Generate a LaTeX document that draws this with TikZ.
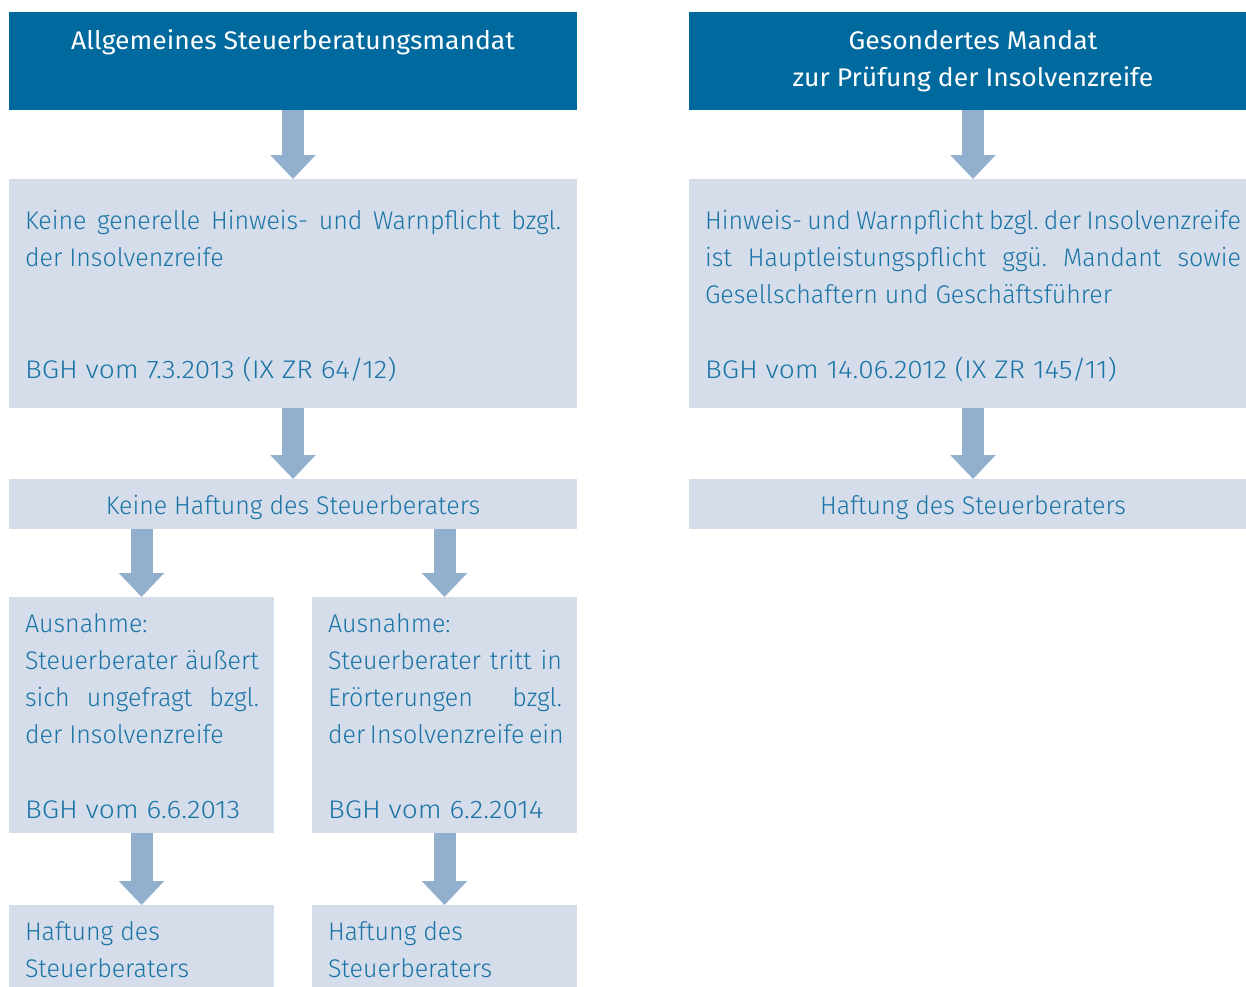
\documentclass[tikz,border=0pt]{standalone}
\usepackage{fontspec}
\setmainfont{Fira Sans}[UprightFont=* Light, BoldFont=*, FakeStretch=0.98]
\newfontfamily\hdrfont{Fira Sans}[FakeStretch=1.04]
\newfontfamily\bghfont{Fira Sans Light}[FakeStretch=1.10]
\usetikzlibrary{arrows.meta}
\definecolor{hdrblue}{RGB}{0,105,158}
\definecolor{boxfill}{RGB}{213,221,234}
\definecolor{arrcol}{RGB}{147,175,206}
\definecolor{txtblue}{RGB}{26,116,166}
\frenchspacing
\newcommand\justline[1]{\makebox[\linewidth][s]{#1}}
\newcommand\bgh[1]{{\bghfont #1}}
\begin{document}
\begin{tikzpicture}[x=1pt,y=-1pt,
  hdr/.style={fill=hdrblue, inner sep=0pt, outer sep=0pt, minimum width=568pt, minimum height=98pt, anchor=north west},
  lbox/.style={fill=boxfill, inner sep=0pt, outer sep=0pt, anchor=north west},
  arr/.style={draw=arrcol, line width=22pt, -{Triangle[width=44pt,length=24pt]}},
  txt/.style={anchor=base west, inner sep=0pt, outer sep=0pt, text=txtblue, font=\fontsize{25.5}{37.3}\selectfont},
  htxt/.style={anchor=base, inner sep=0pt, outer sep=0pt, text=white, font=\fontsize{25.5}{37.3}\selectfont\hdrfont}]
\clip (0,0) rectangle (1246,986);
% left column
\node[hdr] (h1) at (9,12) {};
\node[lbox, minimum width=568pt, minimum height=229pt] (b1) at (9,179) {};
\node[lbox, minimum width=568pt, minimum height=50pt] (b3) at (9,479) {};
\node[lbox, minimum width=265pt, minimum height=236pt] (b4a) at (9,597) {};
\node[lbox, minimum width=265pt, minimum height=236pt] (b4b) at (312,597) {};
\node[lbox, minimum width=265pt, minimum height=95pt] (b5a) at (9,905) {};
\node[lbox, minimum width=265pt, minimum height=95pt] (b5b) at (312,905) {};
% right column
\node[hdr] (h2) at (689,12) {};
\node[lbox, minimum width=568pt, minimum height=229pt] (r1) at (689,179) {};
\node[lbox, minimum width=568pt, minimum height=50pt] (r3) at (689,479) {};
% texts
\node[htxt] (th1) at (293,49) {Allgemeines Steuerberatungsmandat};
\node[htxt] (th2) at (973,49) {\parbox[t]{560pt}{\centering Gesondertes Mandat\\ zur Prüfung der Insolvenzreife}};
\node[txt] (tb1) at (25,229) {\parbox[t]{536pt}{\justline{Keine generelle Hinweis- und Warnpflicht bzgl.}\\
der Insolvenzreife\\ \mbox{}\\ \mbox{}\\ \bgh{BGH vom 7.3.2013 (IX ZR 64/12)}}};
\node[txt, anchor=base] (tb3) at (293,514) {Keine Haftung des Steuerberaters};
\node[txt] (tb4a) at (25,632) {\parbox[t]{234pt}{Ausnahme:\\ \justline{Steuerberater äußert}\\ \justline{sich ungefragt bzgl.}\\ der Insolvenzreife\\ \mbox{}\\ \bgh{BGH vom 6.6.2013}}};
\node[txt] (tb4b) at (328,632) {\parbox[t]{234pt}{Ausnahme:\\ \justline{Steuerberater tritt in}\\ \justline{Erörterungen bzgl.}\\ \justline{der Insolvenzreife ein}\\ \mbox{}\\ \bgh{BGH vom 6.2.2014}}};
\node[txt] (tb5a) at (25,940) {\parbox[t]{234pt}{Haftung des\\ Steuerberaters}};
\node[txt] (tb5b) at (328,940) {\parbox[t]{234pt}{Haftung des\\ Steuerberaters}};
\node[txt] (tr1) at (705,229) {\parbox[t]{536pt}{\justline{Hinweis- und Warnpflicht bzgl. der Insolvenzreife}\\
\justline{ist Hauptleistungspflicht ggü. Mandant sowie}\\ Gesellschaftern und Geschäftsführer\\ \mbox{}\\ \bgh{BGH vom 14.06.2012 (IX ZR 145/11)}}};
\node[txt, anchor=base] (tr3) at (973,514) {Haftung des Steuerberaters};
% arrows
\draw[arr] (h1.south) -- (b1.north);
\draw[arr] (b1.south) -- (b3.north);
\draw[arr] (b3.south -| b4a.north) -- (b4a.north);
\draw[arr] (b3.south -| b4b.north) -- (b4b.north);
\draw[arr] (b4a.south) -- (b5a.north);
\draw[arr] (b4b.south) -- (b5b.north);
\draw[arr] (h2.south) -- (r1.north);
\draw[arr] (r1.south) -- (r3.north);
\end{tikzpicture}
\end{document}
